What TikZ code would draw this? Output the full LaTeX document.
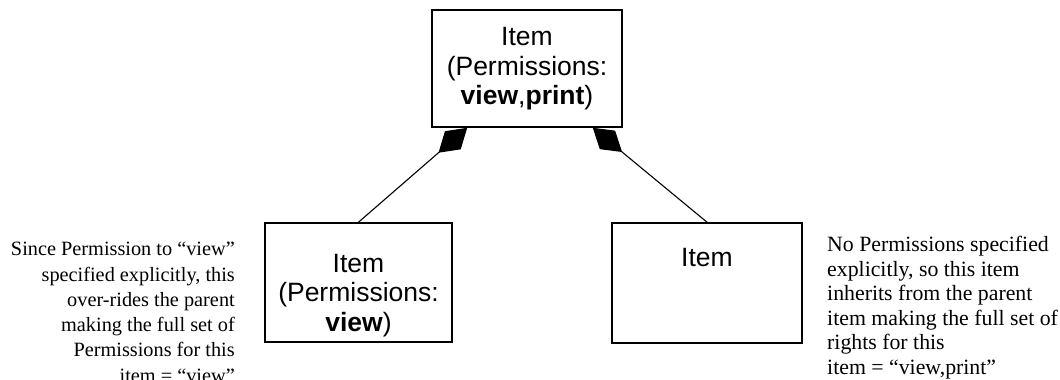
\documentclass[tikz,border=0pt]{standalone}
\usepackage{fontspec}
\setmainfont{Liberation Serif}
\setsansfont{Liberation Sans}
\usetikzlibrary{arrows.meta}

\tikzset{
  itembox/.style={draw,line width=1.6pt,minimum width=190pt,minimum height=117pt,inner sep=0pt},
  itemtext/.style={font=\sffamily\fontsize{26.5}{29.5}\selectfont,align=center,inner sep=0pt,anchor=north},
  note/.style={font=\fontsize{21.5}{25.3}\selectfont,inner sep=0pt},
  part/.style={line width=1.1pt,-{Diamond[length=38pt,width=24pt]}}
}

\begin{document}
\begin{tikzpicture}[x=1pt,y=-1pt]
    \useasboundingbox (0,0) rectangle (1060,380);

    % the three items
    \node[itembox] (parent) at (527,68.5) {};
    \node[itembox,minimum width=187pt,minimum height=119pt] (viewitem) at (358.5,282.5) {};
    \node[itembox,minimum height=120pt] (plainitem) at (707,283) {};

    \node[itemtext] (parenttext) at ([yshift=-18pt]parent.north) {Item\\(Permissions:\\\textbf{view},\textbf{print})};
    \node[itemtext] (viewtext) at ([yshift=-31.5pt]viewitem.north) {Item\\(Permissions:\\\textbf{view})};
    \node[itemtext] (plaintext) at ([yshift=-25.5pt]plainitem.north) {Item};

    % composition links
    \draw[part] (viewitem.north) -- ([xshift=36pt]parent.south west);
    \draw[part] (plainitem.north) -- ([xshift=-30pt]parent.south east);

    % notes
    \node[note,font=\fontsize{20.3}{25.3}\selectfont,align=right,anchor=north east] (leftnote) at (235,242)
      {Since Permission to “view”\\specified explicitly, this\\over-rides the parent\\making the full set of\\Permissions for this\\item = “view”};
    \node[note,font=\fontsize{21.8}{24.6}\selectfont,align=left,anchor=north west] (rightnote) at (827,236)
      {No Permissions specified\\explicitly, so this item\\inherits from the parent\\item making the full set of\\rights for this\\item = “view,print”};
\end{tikzpicture}
\end{document}
